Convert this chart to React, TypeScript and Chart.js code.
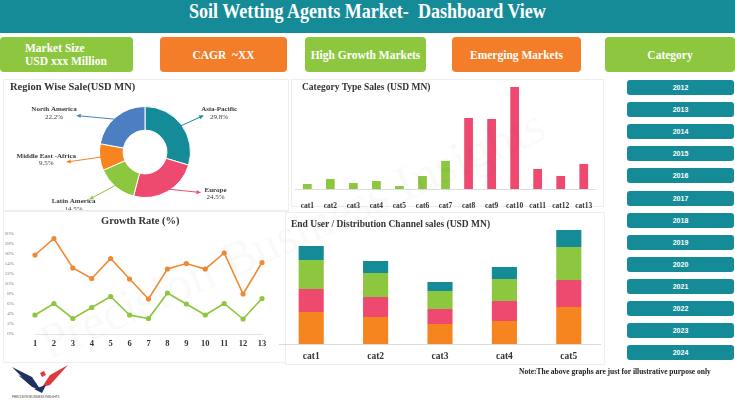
import React, { useEffect, useRef } from "react";
import { Chart, registerables } from "chart.js";

Chart.register(...registerables);
Chart.defaults.font.family = "'Liberation Serif', 'Times New Roman', serif";

// ---------------- data ----------------
const regionLabels = ["Asia-Pacific", "Europe", "Latin America", "Middle East -Africa", "North America"];
const regionShare = [29.8, 24.5, 14.5, 9.5, 22.2];

const categoryLabels = ["cat1", "cat2", "cat3", "cat4", "cat5", "cat6", "cat7", "cat8", "cat9", "cat10", "cat11", "cat12", "cat13"];
const categorySales = [5, 10, 6, 8, 3, 13, 28, 71, 70, 102, 20, 13, 25];
const categoryGroup = ["A", "A", "A", "A", "A", "A", "A", "B", "B", "B", "B", "B", "B"];

const growthLabels = ["1", "2", "3", "4", "5", "6", "7", "8", "9", "10", "11", "12", "13"];
const growthHigh = [15.8, 19.1, 13.2, 11.1, 15.1, 11.0, 7.0, 13.0, 14.1, 13.0, 16.2, 8.0, 14.3];
const growthLow = [3.8, 6.1, 3.1, 5.3, 7.5, 3.8, 3.1, 8.2, 6.0, 3.8, 6.1, 3.0, 7.1];

const channelLabels = ["cat1", "cat2", "cat3", "cat4", "cat5"];
const channelSeries1 = [32, 27, 20, 23, 37];
const channelSeries2 = [23, 20, 15, 20, 27];
const channelSeries3 = [29, 24, 18, 22, 33];
const channelSeries4 = [14, 12, 9, 12, 17];

const yearLabels = ["2012", "2013", "2014", "2015", "2016", "2017", "2018", "2019", "2020", "2021", "2022", "2023", "2024"];

// ---------------- styles ----------------
const TEAL = "#168b98";
const GREEN = "#8dc63f";
const ORANGE = "#f6841f";
const ORANGE_TILE = "#f47d2a";
const ORANGE_LINE = "#ef8a33";
const PINK = "#ee4a70";
const BLUE = "#4c7ec2";
const TEXT_DARK = "#333333";
const SERIF = "'Liberation Serif', 'Times New Roman', serif";
const SANS = "'Liberation Sans', Arial, sans-serif";

const REGION_COLORS = [TEAL, PINK, GREEN, ORANGE, BLUE];

// label placement around the doughnut, in units of the outer radius
const REGION_LABEL_LAYOUT = [
  { end: [1.28, -0.8], text: [1.63, -0.93] },
  { end: [1.22, 0.89], text: [1.55, 0.83] },
  { end: [-1.22, 1.04], text: [-1.57, 1.09] },
  { end: [-1.72, 0.22], text: [-2.17, 0.09] },
  { end: [-1.5, -0.8], text: [-2.0, -0.93] },
];

const regionLabelPlugin = {
  id: "regionLabels",
  afterDatasetsDraw(chart: any) {
    const ctx = chart.ctx;
    const meta = chart.getDatasetMeta(0);
    const values = chart.data.datasets[0].data;
    meta.data.forEach((arc: any, i: number) => {
      const { x, y, startAngle, endAngle, outerRadius } = arc.getProps(
        ["x", "y", "startAngle", "endAngle", "outerRadius"],
        true
      );
      const mid = (startAngle + endAngle) / 2;
      const sx = x + Math.cos(mid) * outerRadius * 0.93;
      const sy = y + Math.sin(mid) * outerRadius * 0.93;
      const lay = REGION_LABEL_LAYOUT[i];
      const ex = x + lay.end[0] * outerRadius;
      const ey = y + lay.end[1] * outerRadius;
      const color = REGION_COLORS[i];
      ctx.save();
      ctx.strokeStyle = color;
      ctx.fillStyle = color;
      ctx.lineWidth = 1;
      ctx.beginPath();
      ctx.moveTo(sx, sy);
      ctx.lineTo(ex, ey);
      ctx.stroke();
      const ang = Math.atan2(ey - sy, ex - sx);
      const ah = 4.5;
      ctx.beginPath();
      ctx.moveTo(ex, ey);
      ctx.lineTo(ex - ah * Math.cos(ang - 0.5), ey - ah * Math.sin(ang - 0.5));
      ctx.lineTo(ex - ah * Math.cos(ang + 0.5), ey - ah * Math.sin(ang + 0.5));
      ctx.closePath();
      ctx.fill();
      const tx = x + lay.text[0] * outerRadius;
      const ty = y + lay.text[1] * outerRadius;
      ctx.fillStyle = "#3a3a3a";
      ctx.textAlign = "center";
      ctx.textBaseline = "middle";
      ctx.font = `bold 7px ${SERIF}`;
      ctx.fillText(String(chart.data.labels[i]), tx, ty);
      ctx.font = `7px ${SERIF}`;
      ctx.fillText(Number(values[i]).toFixed(1) + "%", tx, ty + 7.5);
      ctx.restore();
    });
  },
};

function ChartBox({ left, top, width, height, config }: any) {
  const ref = useRef<HTMLCanvasElement>(null);
  useEffect(() => {
    const chart = new Chart(ref.current as HTMLCanvasElement, config);
    return () => chart.destroy();
  }, []);
  return (
    <div style={{ position: "absolute", left, top, width, height }}>
      <canvas ref={ref} width={width} height={height} style={{ display: "block" }} />
    </div>
  );
}

const doughnutConfig: any = {
  type: "doughnut",
  data: {
    labels: regionLabels,
    datasets: [{ data: regionShare, backgroundColor: REGION_COLORS, borderColor: "#ffffff", borderWidth: 1 }],
  },
  options: {
    responsive: false,
    animation: false,
    cutout: "48%",
    layout: { padding: { top: 28, bottom: 12 } },
    plugins: { legend: { display: false }, tooltip: { enabled: false } },
  },
  plugins: [regionLabelPlugin],
};

const categoryConfig: any = {
  type: "bar",
  data: {
    labels: categoryLabels,
    datasets: [
      {
        data: categorySales,
        backgroundColor: categoryGroup.map((g) => (g === "A" ? GREEN : PINK)),
        barPercentage: 0.38,
        categoryPercentage: 1,
      },
    ],
  },
  options: {
    responsive: false,
    animation: false,
    layout: { padding: 0 },
    plugins: { legend: { display: false }, tooltip: { enabled: false } },
    scales: {
      x: {
        grid: { display: false, drawTicks: false },
        border: { display: true, color: "#dcdcdc" },
        ticks: { padding: 13, color: TEXT_DARK, font: { size: 7.5, weight: "bold" }, maxRotation: 0, autoSkip: false },
        afterFit: (s: any) => {
          s.height = 25;
        },
      },
      y: { display: false, min: 0, max: 110 },
    },
  },
};

const growthConfig: any = {
  type: "line",
  data: {
    labels: growthLabels,
    datasets: [
      {
        data: growthHigh,
        borderColor: ORANGE_LINE,
        backgroundColor: ORANGE_LINE,
        borderWidth: 1.6,
        pointRadius: 1.8,
        tension: 0,
      },
      {
        data: growthLow,
        borderColor: GREEN,
        backgroundColor: GREEN,
        borderWidth: 1.6,
        pointRadius: 1.8,
        tension: 0,
      },
    ],
  },
  options: {
    responsive: false,
    animation: false,
    layout: { padding: { top: 9, right: 28 } },
    plugins: { legend: { display: false }, tooltip: { enabled: false } },
    scales: {
      x: {
        grid: { display: false, drawTicks: false },
        border: { display: true, color: "#e2e2e2" },
        ticks: { padding: 5, color: TEXT_DARK, font: { size: 8.5, weight: "bold" }, maxRotation: 0, autoSkip: false },
        afterFit: (s: any) => {
          s.height = 26;
        },
      },
      y: {
        min: 0,
        max: 20,
        grid: { display: false, drawTicks: false },
        border: { display: false },
        ticks: {
          stepSize: 2,
          padding: 21,
          color: "#777777",
          font: { size: 5 },
          callback: (v: any) => v + "%",
        },
        afterFit: (s: any) => {
          s.width = 35;
        },
      },
    },
  },
};

const channelConfig: any = {
  type: "bar",
  data: {
    labels: channelLabels,
    datasets: [
      { data: channelSeries1, backgroundColor: ORANGE },
      { data: channelSeries2, backgroundColor: PINK },
      { data: channelSeries3, backgroundColor: GREEN },
      { data: channelSeries4, backgroundColor: TEAL },
    ],
  },
  options: {
    responsive: false,
    animation: false,
    datasets: { bar: { barPercentage: 0.39, categoryPercentage: 1 } },
    layout: { padding: 0 },
    plugins: { legend: { display: false }, tooltip: { enabled: false } },
    scales: {
      x: {
        stacked: true,
        grid: { display: false, drawTicks: false },
        border: { display: true, color: "#dcdcdc" },
        ticks: { padding: 7, color: TEXT_DARK, font: { size: 9.5, weight: "bold" }, maxRotation: 0 },
        afterFit: (s: any) => {
          s.height = 20;
        },
      },
      y: { stacked: true, display: false, min: 0, max: 130 },
    },
  },
};

const tileStyle = (left: number, width: number, bg: string): React.CSSProperties => ({
  position: "absolute",
  left,
  top: 37,
  width,
  height: 35,
  background: bg,
  borderRadius: 4,
  color: "#ffffff",
  fontFamily: SERIF,
  fontWeight: "bold",
  fontSize: 11.5,
  display: "flex",
  alignItems: "center",
  justifyContent: "center",
  boxSizing: "border-box",
});

const panelStyle = (left: number, top: number, width: number, height: number): React.CSSProperties => ({
  position: "absolute",
  left,
  top,
  width,
  height,
  border: "1px solid #eeeeee",
  boxSizing: "border-box",
  background: "#ffffff",
});

const titleText = (left: number, top: number, size: number, text: string, extra: React.CSSProperties = {}) => (
  <div
    style={{
      position: "absolute",
      left,
      top,
      fontFamily: SERIF,
      fontWeight: "bold",
      fontSize: size,
      lineHeight: `${size + 2}px`,
      color: TEXT_DARK,
      whiteSpace: "nowrap",
      ...extra,
    }}
  >
    {text}
  </div>
);

export default function App() {
  return (
    <div
      style={{
        position: "fixed",
        left: 0,
        top: 0,
        width: 735,
        height: 400,
        background: "#ffffff",
        overflow: "hidden",
        fontFamily: SERIF,
      }}
    >
      {/* header */}
      <div
        style={{
          position: "absolute",
          left: 0,
          top: 0,
          width: 735,
          height: 33,
          background: TEAL,
          color: "#ffffff",
          textAlign: "center",
        }}
      >
        <div
          style={{
            fontFamily: SERIF,
            fontWeight: "bold",
            fontSize: 21,
            lineHeight: "22px",
            whiteSpace: "nowrap",
            transform: "scaleX(0.86)",
            transformOrigin: "367px 0",
            paddingTop: 0,
          }}
        >
          Soil Wetting Agents Market-&nbsp; Dashboard View
        </div>
      </div>

      {/* KPI tiles */}
      <div style={{ ...tileStyle(0, 133, GREEN), justifyContent: "flex-start", paddingLeft: 25 }}>
        <div style={{ lineHeight: "13px" }}>
          Market Size
          <br />
          USD xxx Million
        </div>
      </div>
      <div style={tileStyle(160, 127, ORANGE_TILE)}>CAGR&nbsp; ~XX</div>
      <div style={tileStyle(305, 121, GREEN)}>High Growth Markets</div>
      <div style={tileStyle(452, 129, ORANGE_TILE)}>Emerging Markets</div>
      <div style={tileStyle(605, 130, GREEN)}>Category</div>

      {/* panels */}
      <div style={panelStyle(3, 79, 286, 132)} />
      <div style={panelStyle(291, 79, 313, 128)} />
      <div style={panelStyle(3, 211, 286, 152)} />
      <div style={panelStyle(285, 212, 320, 153)} />

      {/* charts */}
      <ChartBox left={0} top={78} width={290} height={132} config={doughnutConfig} />
      <ChartBox left={288} top={79} width={317} height={135} config={categoryConfig} />
      <ChartBox left={0} top={210} width={290} height={150} config={growthConfig} />
      <ChartBox left={279} top={214} width={322} height={150} config={channelConfig} />

      {/* watermark */}
      <div
        style={{
          position: "absolute",
          left: 30,
          top: 318,
          fontFamily: SERIF,
          fontSize: 50,
          color: "rgba(0,0,0,0.022)",
          whiteSpace: "nowrap",
          transform: "rotate(-24deg)",
          transformOrigin: "0 0",
          pointerEvents: "none",
        }}
      >
        Precision Business Insights
      </div>

      {/* chart titles */}
      {titleText(10, 81, 10.5, "Region Wise Sale(USD MN)")}
      {titleText(302, 82, 9.5, "Category Type Sales (USD MN)")}
      {titleText(101, 215, 10.5, "Growth Rate (%)")}
      {titleText(291, 219, 9.5, "End User / Distribution Channel sales (USD MN)")}

      {/* year buttons */}
      {yearLabels.map((y, i) => (
        <div
          key={y}
          style={{
            position: "absolute",
            left: 627,
            top: 80 + i * 22.1,
            width: 107,
            height: 15,
            background: TEAL,
            borderRadius: 3,
            color: "#ffffff",
            fontFamily: SANS,
            fontWeight: "bold",
            fontSize: 7,
            lineHeight: "15px",
            textAlign: "center",
          }}
        >
          {y}
        </div>
      ))}

      {/* note */}
      {titleText(519, 367, 7.5, "Note:The above graphs are just for illustrative purpose only", { color: "#222" })}

      {/* logo */}
      <svg style={{ position: "absolute", left: 10, top: 363 }} width={60} height={36} viewBox="0 0 60 36">
        <path d="M2 4 L22 14 L30 26 L22 24 Z" fill="#1f3160" />
        <path d="M8 12 L26 20 L30 28 L20 22 Z" fill="#1f3160" />
        <path d="M58 2 L40 12 L32 24 L40 22 Z" fill="#e03a3e" />
        <path d="M30 10 L34 8 L36 12 L32 14 Z" fill="#e03a3e" />
        <path d="M24 26 L36 22 L32 30 Z" fill="#1f3160" />
        <text x="2" y="35" fontSize="3" fill="#444" fontFamily={SANS}>
          PRECISION BUSINESS INSIGHTS
        </text>
      </svg>
    </div>
  );
}
